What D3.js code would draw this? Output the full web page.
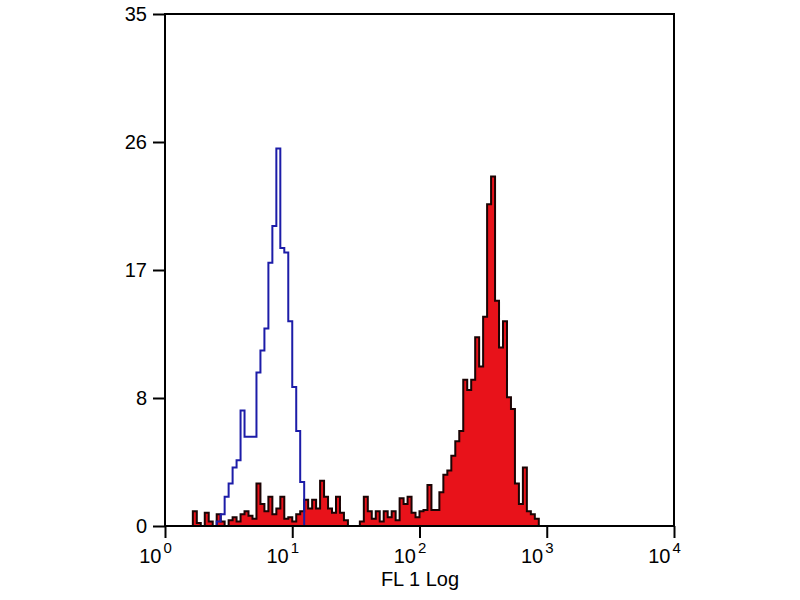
<!DOCTYPE html>
<html>
<head>
<meta charset="utf-8">
<script src="https://cdn.jsdelivr.net/npm/d3@7"></script>
<style>
  body { margin: 0; background: #fff; }
  svg text { font-family: "Liberation Sans", Arial, sans-serif; fill: #000; }
</style>
</head>
<body>
<svg id="chart" width="800" height="600"></svg>
<script>
// histogram channels: 128 bins over 4 log decades
const binCount = 128;
const decades = 4;

// unstained control (blue outline), counts from bin 13
const blueStart = 13;
const blueCounts = [0.3, 0.8, 2, 2.9, 4, 4.5, 7.9, 6.1, 6.1, 6.1, 10.5, 12, 13.5,
  18, 20.5, 25.8, 19, 18.7, 14, 9.5, 6.5, 3, 0];

// stained sample (red fill), counts from bin 6
const redStart = 6;
const redCounts = [0, 1, 0.2, 0, 0.9, 0.3, 0, 0.8, 0.3, 0, 0.4, 0.6, 0.3, 0.8, 1, 0.7,
  0.5, 2.9, 1.5, 1, 2, 0.8, 1.2, 2, 0.5, 0.6, 0.3, 0.8, 1, 1.8, 1.2, 1.8, 1.2, 3.1,
  2, 1.2, 0.9, 2, 0.9, 0.4, 0, 0, 0, 0.3, 2, 1, 0.5, 1, 0.3, 1, 0.6, 1, 0.4, 1.9,
  1.5, 2, 0.9, 0.6, 1, 1.1, 2.8, 1.1, 1.1, 2.3, 3.5, 3.8, 4.8, 5.8, 6.5, 10, 9.3,
  10, 12.9, 10.9, 14.3, 22, 23.9, 15.4, 12.2, 14, 8.8, 8, 2.9, 1.5, 4, 1, 0.8, 0.5, 0];

const xTickValues = [1, 10, 100, 1000, 10000];
const xTickExponents = ["0", "1", "2", "3", "4"];
const yTickValues = [0, 8.75, 17.5, 26.25, 35];
const yTickLabels = ["0", "8", "17", "26", "35"];
const xTitle = "FL 1 Log";

const plotLeft = 165, plotRight = 674, plotTop = 14, plotBottom = 526;
const svg = d3.select('#chart');

const x = d3.scaleLog().domain([1, 1e4]).range([plotLeft, plotRight]);
const y = d3.scaleLinear().domain([0, 35]).range([plotBottom, plotTop]);

// turn bin counts into step points
function steps(start, counts){
  const pts = [];
  const w = decades / binCount;
  pts.push([Math.pow(10, start * w), 0]);
  counts.forEach((c, k) => {
    const i = start + k;
    pts.push([Math.pow(10, i * w), c]);
    pts.push([Math.pow(10, (i + 1) * w), c]);
  });
  pts.push([Math.pow(10, (start + counts.length) * w), 0]);
  return pts;
}

const area = d3.area()
  .x(d => x(d[0]))
  .y0(y(0))
  .y1(d => y(d[1]));
const line = d3.line()
  .x(d => x(d[0]))
  .y(d => y(d[1]));

svg.append('path')
  .attr('d', area(steps(redStart, redCounts)))
  .attr('fill', '#e8121a')
  .attr('stroke', '#1a0404')
  .attr('stroke-width', 2);

svg.append('path')
  .attr('d', line(steps(blueStart, blueCounts)))
  .attr('fill', 'none')
  .attr('stroke', '#1c1ca8')
  .attr('stroke-width', 2);

// frame
svg.append('rect')
  .attr('x', plotLeft).attr('y', plotTop)
  .attr('width', plotRight - plotLeft).attr('height', plotBottom - plotTop)
  .attr('fill', 'none')
  .attr('stroke', '#000')
  .attr('stroke-width', 2);

// y axis
const gy = svg.append('g')
  .attr('transform', `translate(${plotLeft},0)`)
  .call(d3.axisLeft(y).tickValues(yTickValues).tickSize(12).tickPadding(6)
    .tickFormat((d, i) => yTickLabels[i]));
gy.select('.domain').remove();
gy.selectAll('line').attr('stroke', '#000').attr('stroke-width', 2);
gy.selectAll('text').style('font-size', '20px').attr('fill', '#000');

// x axis
const gx = svg.append('g')
  .attr('transform', `translate(0,${plotBottom})`)
  .call(d3.axisBottom(x).tickValues(xTickValues).tickSize(12).tickFormat(''));
gx.select('.domain').remove();
gx.selectAll('line').attr('stroke', '#000').attr('stroke-width', 2);
gx.selectAll('.tick text').remove();
gx.selectAll('.tick').each(function(d, i){
  const t = d3.select(this);
  t.append('text')
    .attr('x', -4).attr('y', 37)
    .attr('text-anchor', 'end')
    .style('font-size', '20px')
    .text('10');
  t.append('text')
    .attr('x', -2).attr('y', 27)
    .attr('text-anchor', 'start')
    .style('font-size', '15px')
    .text(xTickExponents[i]);
});

svg.append('text')
  .attr('x', 420).attr('y', 586)
  .attr('text-anchor', 'middle')
  .style('font-size', '20px')
  .text(xTitle);
</script>
</body>
</html>
